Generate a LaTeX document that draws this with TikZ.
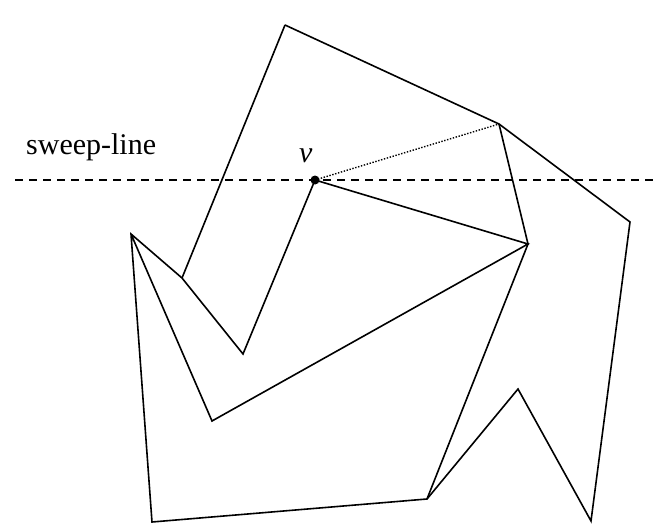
\documentclass[tikz,border=0pt]{standalone}
\usepackage{fontspec}
\setmainfont{Liberation Serif}
\begin{document}
\begin{tikzpicture}[x=1pt,y=-1pt,
  edge/.style={line width=1.6pt, line join=miter},
  sweep/.style={line width=1.4pt, dash pattern=on 8pt off 6pt},
  dotline/.style={line width=1.4pt, dash pattern=on 1.4pt off 1.6pt},
  lbl/.style={font=\fontsize{30}{32}\selectfont, inner sep=0pt, anchor=base west}]
\useasboundingbox (0,0) rectangle (656,524);
\coordinate (T) at (285,25);
\coordinate (P) at (499,124);
\coordinate (R) at (630,222);
\coordinate (Z) at (591,521);
\coordinate (S) at (518,389);
\coordinate (U) at (427,499);
\coordinate (W) at (152,522);
\coordinate (A) at (131,234);
\coordinate (B) at (182,278);
\coordinate (C) at (243,354);
\coordinate (D) at (212,421);
\coordinate (Q) at (528,244);
\coordinate (v) at (315,180);
\coordinate (L1) at (15,180);
\coordinate (L2) at (656,180);
\draw[sweep] (L1) -- (L2);
\draw[edge] (T) -- (P) -- (R) -- (Z) -- (S) -- (U) -- (W) -- (A) -- (B) -- (C) -- (v) -- (Q) -- (D) -- (A);
\draw[edge] (T) -- (B);
\draw[edge] (P) -- (Q) -- (U);
\draw[dotline] (v) -- (P);
\fill (v) circle (4.5pt);
\node[lbl] (sl) at (26,155) {sweep-line};
\node[lbl] (vl) at (299,162) {\itshape v};
\end{tikzpicture}
\end{document}
